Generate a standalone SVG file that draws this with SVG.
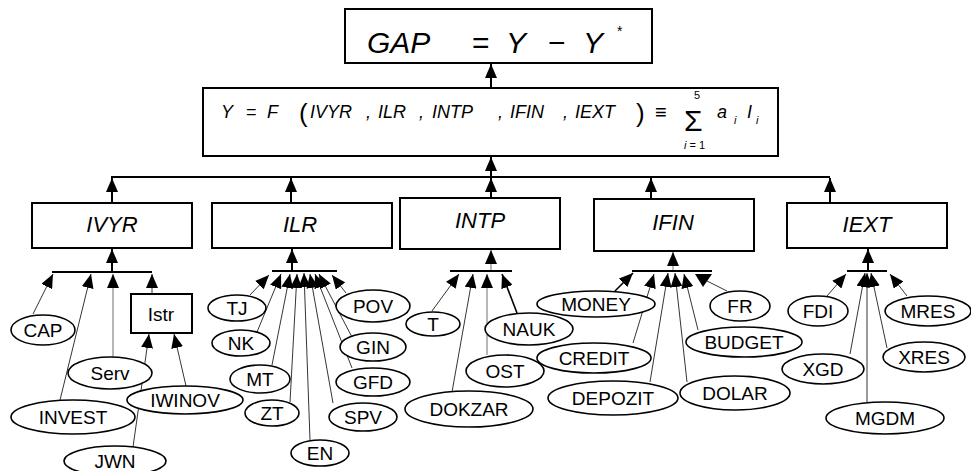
<svg xmlns="http://www.w3.org/2000/svg" width="971" height="471" viewBox="0 0 971 471">
<style>
.box{fill:#fff;stroke:#000;stroke-width:2}
.el{fill:#fff;stroke:#000;stroke-width:1.6}
.t{font-family:"Liberation Sans",Arial,sans-serif;fill:#000}
.n{font-size:19px;text-anchor:middle}
.bl{font-size:22px;font-style:italic;text-anchor:middle}
.f{font-size:18px;font-style:italic}
.main{stroke:#000;stroke-width:2;fill:none}
.thin{stroke:#000;stroke-width:0.8;fill:none}
.gray{stroke:#888;stroke-width:1.2;fill:none}
.thick{stroke:#000;stroke-width:1.6;fill:none}
</style>
<defs>
<marker id="ah" viewBox="0 0 14 12" refX="14" refY="6" markerWidth="14" markerHeight="12" markerUnits="userSpaceOnUse" orient="auto">
<path d="M0,0 L14,6 L0,12 z" fill="#000"/>
</marker>
</defs>

<g id="connectors">
<line class="main" x1="491" y1="87" x2="491" y2="64" marker-end="url(#ah)"/>
<line class="main" x1="491" y1="177" x2="491" y2="157" marker-end="url(#ah)"/>
<line class="main" x1="111" y1="177" x2="830" y2="177"/>
<line class="main" x1="112" y1="203" x2="112" y2="178" marker-end="url(#ah)"/>
<line class="main" x1="291" y1="203" x2="291" y2="178" marker-end="url(#ah)"/>
<line class="main" x1="491" y1="198" x2="491" y2="178" marker-end="url(#ah)"/>
<line class="main" x1="651" y1="199" x2="651" y2="178" marker-end="url(#ah)"/>
<line class="main" x1="830" y1="203" x2="830" y2="178" marker-end="url(#ah)"/>

<!-- IVYR -->
<line class="main" x1="112" y1="272" x2="112" y2="249" marker-end="url(#ah)"/>
<line class="main" x1="52" y1="272" x2="152" y2="272"/>
<line class="thin" x1="33" y1="314" x2="53" y2="274" marker-end="url(#ah)"/>
<line class="thin" x1="60" y1="400" x2="91" y2="274" marker-end="url(#ah)"/>
<line class="gray" x1="113" y1="357" x2="113" y2="274" marker-end="url(#ah)"/>
<line class="thin" x1="152" y1="294" x2="152" y2="274" marker-end="url(#ah)"/>
<line class="thin" x1="133" y1="447" x2="149" y2="334" marker-end="url(#ah)"/>
<line class="thin" x1="186" y1="386" x2="174" y2="334" marker-end="url(#ah)"/>

<!-- ILR -->
<line class="main" x1="292" y1="271" x2="292" y2="249" marker-end="url(#ah)"/>
<line class="main" x1="272" y1="271" x2="337" y2="271"/>
<line class="thin" x1="250" y1="295" x2="269" y2="275" marker-end="url(#ah)"/>
<line class="thin" x1="257" y1="332" x2="281" y2="274" marker-end="url(#ah)"/>
<line class="thin" x1="272" y1="365" x2="290" y2="274" marker-end="url(#ah)"/>
<line class="thin" x1="290" y1="402" x2="297" y2="274" marker-end="url(#ah)"/>
<line class="thin" x1="310" y1="440" x2="304" y2="273" marker-end="url(#ah)"/>
<line class="thin" x1="333" y1="403" x2="310" y2="274" marker-end="url(#ah)"/>
<line class="thin" x1="352" y1="368" x2="315" y2="274" marker-end="url(#ah)"/>
<line class="thin" x1="353" y1="339" x2="319" y2="274" marker-end="url(#ah)"/>
<line class="thin" x1="346" y1="293" x2="332" y2="275" marker-end="url(#ah)"/>

<!-- INTP -->
<line class="gray" x1="491" y1="271" x2="491" y2="250" marker-end="url(#ah)"/>
<line class="main" x1="450" y1="271" x2="512" y2="271"/>
<line class="thin" x1="432" y1="311" x2="459" y2="274" marker-end="url(#ah)"/>
<line class="thin" x1="452" y1="392" x2="473" y2="274" marker-end="url(#ah)"/>
<line class="gray" x1="487" y1="355" x2="487" y2="274" marker-end="url(#ah)"/>
<line class="thick" x1="517" y1="313" x2="502" y2="274" marker-end="url(#ah)"/>

<!-- IFIN -->
<line class="gray" x1="673" y1="271" x2="673" y2="252" marker-end="url(#ah)"/>
<line class="main" x1="632" y1="271" x2="712" y2="271"/>
<line class="thick" x1="615" y1="291" x2="633" y2="273" marker-end="url(#ah)"/>
<line class="thin" x1="633" y1="343" x2="654" y2="274" marker-end="url(#ah)"/>
<line class="thin" x1="650" y1="382" x2="668" y2="273" marker-end="url(#ah)"/>
<line class="thin" x1="687" y1="382" x2="675" y2="273" marker-end="url(#ah)"/>
<line class="thin" x1="698" y1="330" x2="684" y2="274" marker-end="url(#ah)"/>
<line class="thin" x1="727" y1="291" x2="707" y2="281"/>
<polygon points="695,274 712,274 703,287" fill="#000"/>

<!-- IEXT -->
<line class="main" x1="868" y1="271" x2="868" y2="249" marker-end="url(#ah)"/>
<line class="main" x1="847" y1="271" x2="887" y2="271"/>
<line class="thin" x1="827" y1="296" x2="846" y2="274" marker-end="url(#ah)"/>
<line class="thin" x1="850" y1="354" x2="865" y2="273" marker-end="url(#ah)"/>
<line class="thin" x1="867" y1="402" x2="867" y2="273" marker-end="url(#ah)"/>
<line class="thin" x1="887" y1="348" x2="871" y2="273" marker-end="url(#ah)"/>
<line class="thin" x1="907" y1="296" x2="890" y2="274" marker-end="url(#ah)"/>
</g>

<g id="gap">
<rect class="box" x="345" y="9" width="307" height="54"/>
<text class="t" x="367" y="53" font-size="30" font-style="italic">GAP</text>
<text class="t" x="472" y="53" font-size="30">=</text>
<text class="t" x="506" y="53" font-size="30" font-style="italic">Y</text>
<text class="t" x="548" y="53" font-size="30">−</text>
<text class="t" x="583" y="53" font-size="30" font-style="italic">Y</text>
<text class="t" x="617" y="36" font-size="14">*</text>
</g>

<g id="formula">
<rect class="box" x="203" y="88" width="575" height="68"/>
<text class="t f" x="221" y="118">Y</text>
<text class="t" x="246" y="118" font-size="18">=</text>
<text class="t f" x="267" y="118">F</text>
<text class="t" x="299" y="122" font-size="26">(</text>
<text class="t f" x="310" y="118">IVYR</text>
<text class="t f" x="366" y="118">,</text>
<text class="t f" x="378" y="118">ILR</text>
<text class="t f" x="419" y="118">,</text>
<text class="t f" x="432" y="118">INTP</text>
<text class="t f" x="498" y="118">,</text>
<text class="t f" x="510" y="118">IFIN</text>
<text class="t f" x="563" y="118">,</text>
<text class="t f" x="575" y="118">IEXT</text>
<text class="t" x="636" y="122" font-size="26">)</text>
<text class="t" x="655" y="119" font-size="20">≡</text>
<text class="t" x="684" y="131" font-size="30">Σ</text>
<text class="t" x="694" y="99" font-size="11">5</text>
<text class="t" x="684" y="149" font-size="11"><tspan font-style="italic">i</tspan> = 1</text>
<text class="t f" x="717" y="118">a</text>
<text class="t" x="734" y="124" font-size="11" font-style="italic">i</text>
<text class="t f" x="747" y="118">I</text>
<text class="t" x="756" y="124" font-size="11" font-style="italic">i</text>
</g>

<g id="IVYR"><rect class="box" x="32" y="203" width="160" height="45"/><text class="t bl" x="112" y="232">IVYR</text></g>
<g id="ILR"><rect class="box" x="212" y="203" width="180" height="45"/><text class="t bl" x="300" y="232">ILR</text></g>
<g id="INTP"><rect class="box" x="400" y="198" width="160" height="51"/><text class="t bl" x="480" y="228">INTP</text></g>
<g id="IFIN"><rect class="box" x="594" y="199" width="160" height="52"/><text class="t bl" x="673" y="230">IFIN</text></g>
<g id="IEXT"><rect class="box" x="787" y="203" width="160" height="45"/><text class="t bl" x="867" y="232">IEXT</text></g>

<g id="Istr"><rect class="box" x="131" y="294" width="61" height="39"/><text class="t n" x="161" y="321">Istr</text></g>

<g id="CAP"><ellipse class="el" cx="43" cy="330" rx="32" ry="15"/><text class="t n" x="43" y="337">CAP</text></g>
<g id="Serv"><ellipse class="el" cx="110" cy="373" rx="42" ry="16"/><text class="t n" x="110" y="380">Serv</text></g>
<g id="INVEST"><ellipse class="el" cx="73" cy="417" rx="62" ry="17"/><text class="t n" x="73" y="424">INVEST</text></g>
<g id="IWINOV"><ellipse class="el" cx="185" cy="400" rx="58" ry="14"/><text class="t n" x="185" y="407">IWINOV</text></g>
<g id="JWN"><ellipse class="el" cx="115" cy="461" rx="51" ry="15"/><text class="t n" x="115" y="468">JWN</text></g>

<g id="TJ"><ellipse class="el" cx="237" cy="308" rx="29" ry="13"/><text class="t n" x="237" y="315">TJ</text></g>
<g id="NK"><ellipse class="el" cx="241" cy="343" rx="29" ry="13"/><text class="t n" x="241" y="350">NK</text></g>
<g id="MT"><ellipse class="el" cx="260" cy="379" rx="30" ry="14"/><text class="t n" x="260" y="386">MT</text></g>
<g id="ZT"><ellipse class="el" cx="272" cy="413" rx="27" ry="13"/><text class="t n" x="272" y="420">ZT</text></g>
<g id="EN"><ellipse class="el" cx="320" cy="453" rx="29" ry="13"/><text class="t n" x="320" y="460">EN</text></g>
<g id="SPV"><ellipse class="el" cx="363" cy="417" rx="34" ry="14"/><text class="t n" x="363" y="424">SPV</text></g>
<g id="GFD"><ellipse class="el" cx="373" cy="382" rx="37" ry="14"/><text class="t n" x="373" y="389">GFD</text></g>
<g id="GIN"><ellipse class="el" cx="373" cy="347" rx="33" ry="14"/><text class="t n" x="373" y="354">GIN</text></g>
<g id="POV"><ellipse class="el" cx="373" cy="306" rx="37" ry="16"/><text class="t n" x="373" y="313">POV</text></g>

<g id="T"><ellipse class="el" cx="433" cy="324" rx="27" ry="12"/><text class="t n" x="433" y="331">T</text></g>
<g id="DOKZAR"><ellipse class="el" cx="469" cy="409" rx="64" ry="18"/><text class="t n" x="469" y="416">DOKZAR</text></g>
<g id="OST"><ellipse class="el" cx="505" cy="371" rx="39" ry="16"/><text class="t n" x="505" y="378">OST</text></g>
<g id="NAUK"><ellipse class="el" cx="529" cy="329" rx="44" ry="16"/><text class="t n" x="529" y="336">NAUK</text></g>

<g id="MONEY"><ellipse class="el" cx="596" cy="304" rx="59" ry="13"/><text class="t n" x="596" y="311">MONEY</text></g>
<g id="CREDIT"><ellipse class="el" cx="594" cy="358" rx="57" ry="15"/><text class="t n" x="594" y="365">CREDIT</text></g>
<g id="DEPOZIT"><ellipse class="el" cx="613" cy="398" rx="65" ry="17"/><text class="t n" x="613" y="405">DEPOZIT</text></g>
<g id="DOLAR"><ellipse class="el" cx="735" cy="393" rx="55" ry="17"/><text class="t n" x="735" y="400">DOLAR</text></g>
<g id="BUDGET"><ellipse class="el" cx="744" cy="342" rx="58" ry="15"/><text class="t n" x="744" y="349">BUDGET</text></g>
<g id="FR"><ellipse class="el" cx="740" cy="306" rx="30" ry="15"/><text class="t n" x="740" y="313">FR</text></g>

<g id="FDI"><ellipse class="el" cx="818" cy="311" rx="30" ry="15" stroke-width="1"/><text class="t n" x="818" y="318">FDI</text></g>
<g id="XGD"><ellipse class="el" cx="823" cy="369" rx="41" ry="15"/><text class="t n" x="823" y="376">XGD</text></g>
<g id="MGDM"><ellipse class="el" cx="885" cy="418" rx="59" ry="16"/><text class="t n" x="885" y="425">MGDM</text></g>
<g id="XRES"><ellipse class="el" cx="924" cy="357" rx="41" ry="15"/><text class="t n" x="924" y="364">XRES</text></g>
<g id="MRES"><ellipse class="el" cx="928" cy="311" rx="43" ry="15"/><text class="t n" x="928" y="318">MRES</text></g>
</svg>
